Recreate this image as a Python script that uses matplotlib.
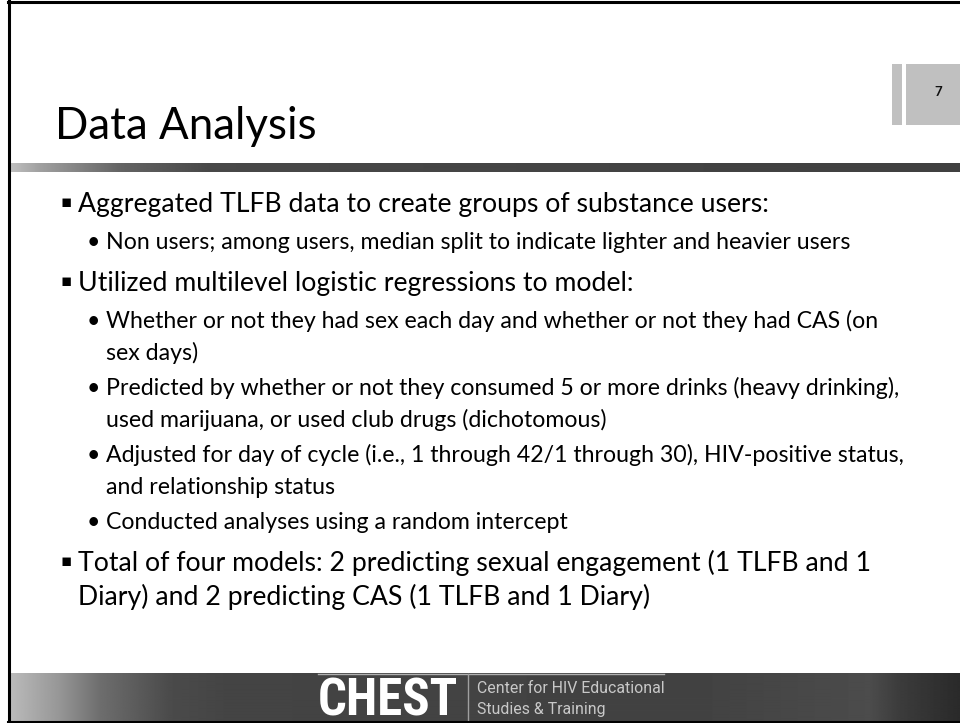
import numpy as np
import matplotlib
matplotlib.use('Agg')
import matplotlib.pyplot as plt
from matplotlib.colors import LinearSegmentedColormap

# slide content
title = 'Data Analysis'
page_no = '7'
levels = [1, 2, 1, 2, 2, 2, 2, 1]
paragraphs = [
    ['Aggregated TLFB data to create groups of substance users:'],
    ['Non users; among users, median split to indicate lighter and heavier users'],
    ['Utilized multilevel logistic regressions to model:'],
    ['Whether or not they had sex each day and whether or not they had CAS (on',
     'sex days)'],
    ['Predicted by whether or not they consumed 5 or more drinks (heavy drinking),',
     'used marijuana, or used club drugs (dichotomous)'],
    ['Adjusted for day of cycle (i.e., 1 through 42/1 through 30), HIV-positive status,',
     'and relationship status'],
    ['Conducted analyses using a random intercept'],
    ['Total of four models: 2 predicting sexual engagement (1 TLFB and 1',
     'Diary) and 2 predicting CAS (1 TLFB and 1 Diary)'],
]
logo = 'CHEST'
logo_sub = ['Center for HIV Educational', 'Studies & Training']

# gray ramps (x position in px, gray level 0-255)
title_bar_stops = ([10, 40, 120, 210, 960], [192, 160, 100, 72, 64])
footer_stops = ([10, 60, 100, 170, 230, 700, 870, 900, 960],
                [187, 150, 110, 75, 68, 66, 76, 60, 42])

BODY_FONT = ['Lato', 'DejaVu Sans']
W, H = 960, 723

fig = plt.figure(figsize=(W / 100, H / 100), dpi=100)
ax = fig.add_axes([0, 0, 1, 1])
ax.set_xlim(0, W)
ax.set_ylim(H, 0)
ax.axis('off')
renderer = fig.canvas.get_renderer()


def fit_width(t, width):
    # scale the font so the text spans the given pixel width
    w = t.get_window_extent(renderer).width
    t.set_fontsize(t.get_fontsize() * width / w)
    return t.get_fontsize()


def gray_ramp(stops, x0, x1, y0, y1):
    xs = np.arange(x0, x1)
    vals = np.interp(xs, stops[0], stops[1]) / 255.0
    cmap = LinearSegmentedColormap.from_list('g', ['black', 'white'])
    ax.imshow(vals[None, :], cmap=cmap, vmin=0, vmax=1, aspect='auto',
              extent=(x0, x1, y1, y0), interpolation='bilinear', zorder=1)


# frame
ax.plot([8.5, 8.5], [0, H], color='black', lw=2.2, zorder=5)
ax.plot([8, W], [1.5, 1.5], color='black', lw=2.2, zorder=5)
ax.plot([8, W], [721.8, 721.8], color='black', lw=2.2, zorder=5)

# page number tab
ax.add_patch(plt.Rectangle((892, 64), 10, 61, color='#c0c0c0', lw=0))
ax.add_patch(plt.Rectangle((906, 64), 54, 61, color='#c0c0c0', lw=0))
ax.text(938.5, 92, page_no, fontsize=9.5, fontweight='bold', family=BODY_FONT,
        ha='center', va='center', color='#111111')

# title and its bar
t = ax.text(55, 139, title, fontsize=32, family=BODY_FONT, va='baseline',
            color='black')
fit_width(t, 262)
gray_ramp(title_bar_stops, 10, W, 163, 172)

# bullets
text_x = {1: 78, 2: 106}
bullet_x = {1: 61, 2: 87}
bullet_ch = {1: '\u25aa', 2: '\u2022'}
pitch = {1: 34, 2: 32}
space_before = {1: 8, 2: 5}
target = {1: (0, 690), 2: (3, 777)}

sizes = {}
for lv, (pi, wd) in target.items():
    probe = ax.text(0, 0, paragraphs[pi][0], fontsize=20, family=BODY_FONT)
    sizes[lv] = fit_width(probe, wd)
    probe.remove()

y = 212
prev = None
for lv, lines in zip(levels, paragraphs):
    if prev is not None:
        y += pitch[lv] + space_before[lv]
        if prev == 2 and lv == 2:
            y -= 2
    if lv == 1:
        ax.text(bullet_x[lv], y - 5, bullet_ch[lv], fontsize=sizes[lv] * 0.63,
                family='DejaVu Sans', va='baseline', color='black')
    else:
        ax.text(bullet_x[lv], y, bullet_ch[lv], fontsize=sizes[lv],
                family=BODY_FONT, va='baseline', color='black')
    for i, line in enumerate(lines):
        if i > 0:
            y += pitch[lv]
        ax.text(text_x[lv], y, line, fontsize=sizes[lv], family=BODY_FONT,
                va='baseline', color='black')
    prev = lv

# footer
gray_ramp(footer_stops, 10, W, 673, 721)
ax.plot([318, 664], [673.5, 673.5], color='#b0b0b0', lw=1, zorder=3)
ax.plot([468, 468], [674, 721], color='#a0a0a0', lw=1, zorder=3)
t = ax.text(318, 716, logo, fontsize=30, fontweight='bold',
            family=['Liberation Sans Narrow', 'Roboto Condensed', 'DejaVu Sans'],
            fontstretch='condensed', va='baseline', color='white', zorder=4)
fit_width(t, 140)
for i, s in enumerate(logo_sub):
    t = ax.text(477, 693 + 21 * i, s, fontsize=11,
                family=['Roboto', 'DejaVu Sans'], va='baseline',
                color='#c8c8c8', zorder=4)
    if i == 0:
        sub_size = fit_width(t, 186)
    else:
        t.set_fontsize(sub_size)

fig.savefig('out.png', dpi=100)
